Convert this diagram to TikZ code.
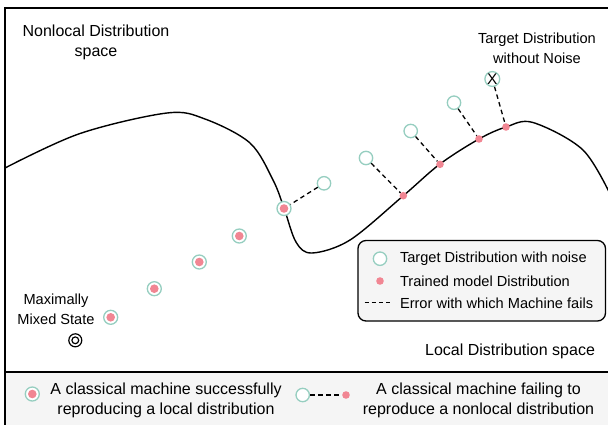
\documentclass[tikz,border=0pt]{standalone}
\usepackage{fontspec}
\setmainfont{Liberation Sans}
\definecolor{tealc}{RGB}{150,206,192}
\definecolor{pinkc}{RGB}{241,134,147}
\definecolor{panel}{RGB}{245,245,245}
\tikzset{
  big/.style={font=\fontsize{16}{20}\selectfont},
  small/.style={font=\fontsize{14.6}{20}\selectfont},
  target/.style={circle, draw=tealc, line width=1.3pt, fill=white, minimum size=13.4pt, inner sep=0pt},
  model/.style={circle, fill=pinkc, minimum size=7.6pt, inner sep=0pt},
  okstate/.style={circle, draw=tealc, line width=1.3pt, fill=white, minimum size=14pt, inner sep=0pt,
    path picture={\fill[pinkc] (path picture bounding box.center) circle (4.3pt);}},
  mixed/.style={circle, draw=black, line width=1.2pt, minimum size=13pt, inner sep=0pt,
    path picture={\draw[line width=1.2pt] (path picture bounding box.center) circle (3.4pt);}},
  err/.style={dashed, dash pattern=on 4.5pt off 3.5pt, line width=1.3pt},
  frame/.style={line width=1.3pt, black}
}
\begin{document}
\begin{tikzpicture}[x=1pt, y=-1pt]
\useasboundingbox (0,0) rectangle (608,424);
% bottom strip
\fill[panel] (5,372) rectangle (610,426);
\draw[frame] (5,426) -- (5,8) -- (610,8);
\draw[frame] (5,372) -- (610,372);

% boundary between nonlocal and local distributions
\begin{scope}
\clip (5,0) rectangle (608,372);
\draw[line width=1.4pt] plot[smooth, tension=0.55] coordinates {
  (5,168) (80,133.5) (167,113) (205,119) (250,143) (273,180) (284,208)
  (296,242) (312,253) (350,240) (403,196) (440,164) (479,139) (506,127)
  (533,122.5) (583,150) (612,198)};
\end{scope}

% region labels
\node[big, align=center] (nonloc) at (96,42) {Nonlocal Distribution\\space};
\node[big, anchor=east] (loc) at (598.5,351) {Local Distribution space};
\node[small, align=center] (tgtlbl) at (537,48) {Target Distribution\\without Noise};
\node[small, align=center] (mixlbl) at (56,309) {Maximally\\Mixed State};

% maximally mixed state
\node[mixed] (mm) at (75.3,340.3) {};

% successfully reproduced local distributions
\node[okstate] (s1) at (110.7,317.3) {};
\node[okstate] (s2) at (154.3,288.7) {};
\node[okstate] (s3) at (199.3,262) {};
\node[okstate] (s4) at (239.3,236) {};
\node[okstate] (s5) at (284,208.5) {};

% noisy targets and trained models
\node[target] (t1) at (324,183.3) {};
\node[target] (t2) at (366,158) {};
\node[target] (t3) at (410.7,131) {};
\node[target] (t4) at (454,102.7) {};
\node[target, font=\fontsize{15.5}{15.5}\selectfont] (t5) at (492.3,79) {X};
\node[model] (m2) at (403.3,195.7) {};
\node[model] (m3) at (440,164.3) {};
\node[model] (m4) at (479,139) {};
\node[model] (m5) at (506,127) {};
\draw[err] (t1) -- (s5);
\draw[err] (t2) -- (m2);
\draw[err] (t3) -- (m3);
\draw[err] (t4) -- (m4);
\draw[err] (t5) -- (m5);

% legend box
\draw[line width=1.3pt, fill=panel, rounded corners=8pt] (358,240.5) rectangle (605.5,321);
\node[target] (lg1) at (380,258.7) {};
\node[small, anchor=west] (lgt1) at (396.5,258.7) {Target Distribution with noise};
\node[model] (lg2) at (380,281) {};
\node[small, anchor=west] (lgt2) at (396.5,281) {Trained model Distribution};
\coordinate (da) at (364.5,302.7);
\coordinate (db) at (393,302.7);
\draw[err, dash pattern=on 4pt off 3.2pt] (da) -- (db);
\node[small, anchor=west] (lgt3) at (396.5,303) {Error with which Machine fails};

% bottom legend
\node[okstate] (b1) at (32.3,394) {};
\node[big, align=center] (bt1) at (166,400) {A classical machine successfully\\reproducing a local distribution};
\node[target] (b2) at (302.7,395) {};
\node[model] (b3) at (346,395) {};
\draw[err] (b2) -- (b3);
\node[big, align=center] (bt2) at (478.5,400) {A classical machine failing to\\reproduce a nonlocal distribution};
\end{tikzpicture}
\end{document}
